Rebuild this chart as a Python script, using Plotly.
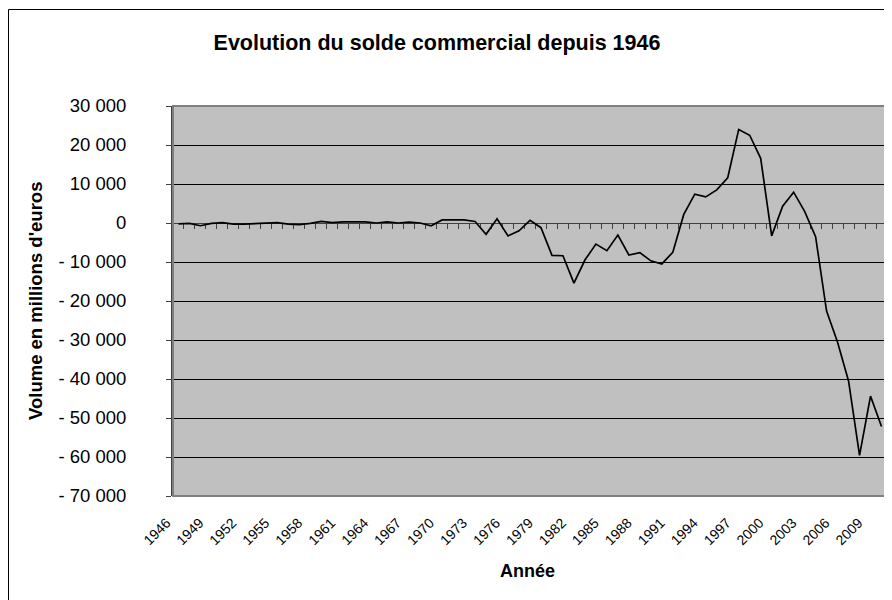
import plotly.graph_objects as go

# ---- data ----
years = list(range(1946, 2011))
solde = [
    -200, -100, -700, -100, 100, -300, -300, -200, 0, 100,          # 1946-1955
    -300, -400, -100, 400, 100, 300, 300, 300, 0, 300,              # 1956-1965
    0, 200, 0, -700, 800, 800, 800, 400, -2900, 1100,               # 1966-1975
    -3300, -2000, 700, -1200, -8300, -8400, -15400, -9500, -5400, -7100,  # 1976-1985
    -3100, -8200, -7600, -9700, -10500, -7500, 2200, 7400, 6700, 8500,    # 1986-1995
    11600, 24000, 22500, 16600, -3300, 4300, 7900, 3000, -3500, -22600,   # 1996-2005
    -30600, -40500, -59600, -44400, -52200,                               # 2006-2010
]
x_tick_years = list(range(1946, 2010, 3))
y_tickvals = [30000, 20000, 10000, 0, -10000, -20000, -30000, -40000, -50000, -60000, -70000]
y_ticktext = ["30 000", "20 000", "10 000", "0", "- 10 000", "- 20 000", "- 30 000",
              "- 40 000", "- 50 000", "- 60 000", "- 70 000"]

title_text = "Evolution du solde commercial depuis 1946"
x_title = "Année"
y_title = "Volume en millions d'euros"

FONT = "Arial, Liberation Sans, sans-serif"

# the page body has an 8px default margin: work in page pixels and convert
PAGE_OFF = 8
W, H = 892 - PAGE_OFF, 600 - PAGE_OFF
PLOT_L, PLOT_R, PLOT_T, PLOT_B = 173 - PAGE_OFF, 887 - PAGE_OFF, 106 - PAGE_OFF, 496 - PAGE_OFF
ML, MR, MT, MB = PLOT_L, W - PLOT_R, PLOT_T, H - PLOT_B
PW = W - ML - MR
PH = H - MT - MB

def px_to_paper_x(px):
    return (px - PAGE_OFF - ML) / PW

def px_to_paper_y(py):
    return (H - MB - (py - PAGE_OFF)) / PH

x_range = [years[0] - 0.5, years[-1] + 0.5]
y_range = [min(y_tickvals), max(y_tickvals)]
zero_pos = (0 - y_range[0]) / (y_range[1] - y_range[0])
boundaries = [y - 0.5 for y in years] + [years[-1] + 0.5]

fig = go.Figure()
fig.add_trace(go.Scatter(
    x=years, y=solde, mode="lines",
    line=dict(color="black", width=1.7),
    showlegend=False, hoverinfo="x+y",
))
# invisible helper trace so the zero-crossing category axis is drawn
fig.add_trace(go.Scatter(
    x=years[:1], y=solde[:1], xaxis="x2", mode="markers",
    marker=dict(opacity=0), showlegend=False, hoverinfo="skip",
))

fig.update_layout(
    width=W, height=H,
    margin=dict(l=ML, r=MR, t=MT, b=MB, pad=0),
    paper_bgcolor="white",
    plot_bgcolor="#C0C0C0",
    font=dict(family=FONT, color="black"),
    title=dict(text="<b>" + title_text + "</b>", xref="container", x=(437 - PAGE_OFF) / W,
               xanchor="center", yref="container", y=1 - (42 - PAGE_OFF) / H, yanchor="middle",
               font=dict(size=21.5, family=FONT, color="black")),
    xaxis=dict(
        range=x_range, tickmode="array", tickvals=x_tick_years,
        tickangle=-45, ticks="", showgrid=False, zeroline=False,
        showline=False, tickfont=dict(size=14, family=FONT, color="black"),
        ticklabelstandoff=15, ticklabelshift=-12,
    ),
    xaxis2=dict(
        overlaying="x", anchor="free", position=zero_pos, side="bottom",
        range=x_range, tickmode="array", tickvals=boundaries,
        ticks="outside", ticklen=5, tickwidth=1, tickcolor="#404040",
        showticklabels=False, showgrid=False, zeroline=False,
        showline=True, linecolor="#404040", linewidth=1, layer="below traces",
    ),
    yaxis=dict(
        range=y_range, tickmode="array", tickvals=y_tickvals, ticktext=y_ticktext,
        ticks="outside", ticklen=5, tickwidth=1, tickcolor="#404040",
        showgrid=True, gridcolor="black", gridwidth=1, zeroline=False,
        showline=True, linecolor="#404040", linewidth=2,
        tickfont=dict(size=18.5, family=FONT, color="black"),
        ticklabelstandoff=36,
    ),
    shapes=[
        # plot area border
        dict(type="rect", xref="paper", yref="paper", x0=0, x1=1, y0=0, y1=1,
             line=dict(color="#808080", width=2), layer="above"),
        # chart border
        dict(type="rect", xref="paper", yref="paper",
             x0=px_to_paper_x(8.5), x1=px_to_paper_x(900 + 20),
             y0=px_to_paper_y(620), y1=px_to_paper_y(9.5),
             line=dict(color="black", width=1)),
    ],
    annotations=[
        dict(text="<b>" + y_title + "</b>", textangle=-90, xref="paper", yref="paper",
             x=px_to_paper_x(35), y=0.5, xanchor="center", yanchor="middle",
             showarrow=False, font=dict(size=18.5, family=FONT, color="black")),
        dict(text="<b>" + x_title + "</b>", xref="paper", yref="paper",
             x=px_to_paper_x(527.5), y=px_to_paper_y(571), xanchor="center", yanchor="middle",
             showarrow=False, font=dict(size=18, family=FONT, color="black")),
    ],
)

fig.write_html("out.html")
